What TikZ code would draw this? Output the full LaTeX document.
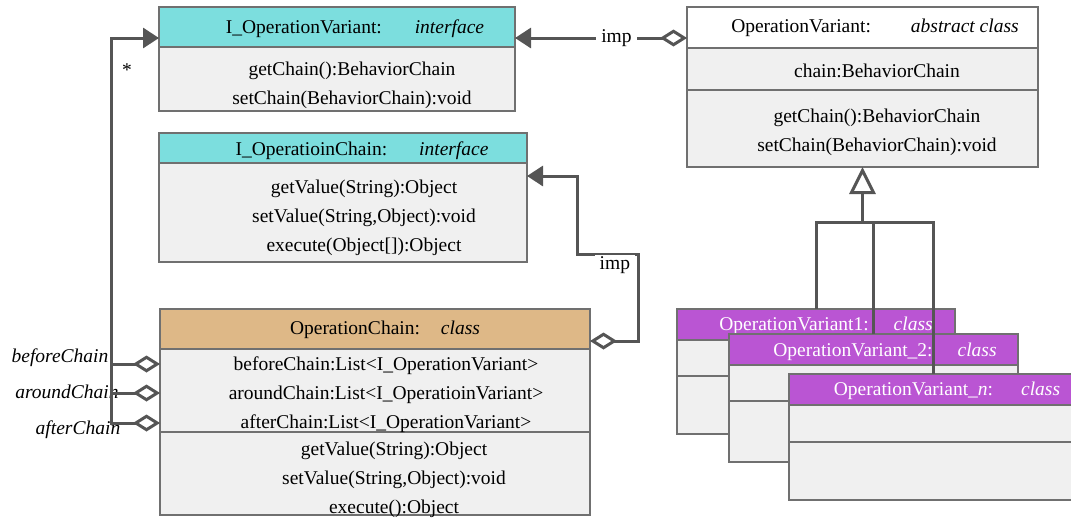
\documentclass[tikz,border=0pt]{standalone}
\usepackage{fontspec}
\setmainfont{Liberation Serif}
\usetikzlibrary{arrows.meta,calc}
\definecolor{boxline}{RGB}{112,112,112}
\definecolor{bodygray}{RGB}{240,240,240}
\definecolor{cyanhead}{RGB}{124,222,222}
\definecolor{tanhead}{RGB}{222,184,135}
\definecolor{purplehead}{RGB}{186,85,211}
\definecolor{linegray}{RGB}{85,85,85}
\newcommand{\umlfont}{\fontsize{19.5}{28.8}\selectfont}
\tikzset{
  comp/.style={draw=boxline,line width=1.5pt,fill=bodygray,anchor=north west,inner sep=0pt,outer sep=0pt},
  txt/.style={font=\umlfont,align=center,inner sep=0pt},
  role/.style={font=\umlfont\itshape,inner sep=0pt},
  imp/.style={font=\umlfont,fill=white,inner xsep=5pt,inner ysep=2pt},
  conn/.style={draw=linegray,line width=3pt},
  dia/.tip={Diamond[fill=white,length=27pt,width=17pt]},
  tri/.tip={Triangle[length=16pt,width=20pt]},
  gen/.tip={Triangle[fill=white,length=27pt,width=26pt]}
}

\begin{document}
\begin{tikzpicture}[x=1pt,y=-1pt]
    \useasboundingbox (0,0) rectangle (1071,517);
    \node[comp,fill=cyanhead,minimum width=356pt,minimum height=40pt] (ivH) at (159,7) {};
    \node[comp,minimum width=356pt,minimum height=64pt] (ivB) at (159,47) {};
    \node[txt] (ivHT) at (355,29) {I\_OperationVariant:\hspace{33pt}\textit{interface}};
    \node[txt] (ivBT) at (352,85) {getChain():BehaviorChain\\setChain(BehaviorChain):void};
    \node[comp,fill=cyanhead,minimum width=368pt,minimum height=30pt] (icH) at (159,133) {};
    \node[comp,minimum width=368pt,minimum height=99pt] (icB) at (159,163) {};
    \node[txt] (icHT) at (362,151) {I\_OperatioinChain:\hspace{32pt}\textit{interface}};
    \node[txt] (icBT) at (364,218) {getValue(String):Object\\setValue(String,Object):void\\execute(Object[]):Object};
    \node[comp,fill=white,minimum width=351pt,minimum height=41pt] (ovH) at (687,7) {};
    \node[comp,minimum width=351pt,minimum height=42pt] (ovA) at (687,48) {};
    \node[comp,minimum width=351pt,minimum height=77pt] (ovM) at (687,90) {};
    \node[txt] (ovHT) at (875,28) {OperationVariant:\hspace{40pt}\textit{abstract class}};
    \node[txt] (ovAT) at (877,71) {chain:BehaviorChain};
    \node[txt] (ovMT) at (877,132) {getChain():BehaviorChain\\setChain(BehaviorChain):void};
    \node[comp,fill=tanhead,minimum width=430pt,minimum height=40pt] (ocH) at (160,309) {};
    \node[comp,minimum width=430pt,minimum height=83pt] (ocA) at (160,349) {};
    \node[comp,minimum width=430pt,minimum height=83pt] (ocM) at (160,432) {};
    \node[txt] (ocHT) at (385,330) {OperationChain:\hspace{21pt}\textit{class}};
    \node[txt] (ocAT) at (386,395) {beforeChain:List<I\_OperationVariant>\\aroundChain:List<I\_OperatioinVariant>\\afterChain:List<I\_OperationVariant>};
    \node[txt] (ocMT) at (394,480) {getValue(String):Object\\setValue(String,Object):void\\execute():Object};
    \node[comp,fill=purplehead,minimum width=278pt,minimum height=31pt] (v1H) at (677,309) {};
    \node[comp,minimum width=278pt,minimum height=36pt] (v1A) at (677,340) {};
    \node[comp,minimum width=278pt,minimum height=58pt] (v1M) at (677,376) {};
    \node[txt,text=white] (v1HT) at (826,326) {OperationVariant1:\hspace{25pt}\textit{class}};
    \node[comp,fill=purplehead,minimum width=289pt,minimum height=31pt] (v2H) at (729,334) {};
    \node[comp,minimum width=289pt,minimum height=36pt] (v2A) at (729,365) {};
    \node[comp,minimum width=289pt,minimum height=61pt] (v2M) at (729,401) {};
    \node[txt,text=white] (v2HT) at (885,352) {OperationVariant\_2:\hspace{25pt}\textit{class}};
    \node[comp,fill=purplehead,minimum width=288pt,minimum height=31pt] (vnH) at (789,374) {};
    \node[comp,minimum width=288pt,minimum height=37pt] (vnA) at (789,405) {};
    \node[comp,minimum width=288pt,minimum height=58pt] (vnM) at (789,442) {};
    \node[txt,text=white] (vnHT) at (947,391) {OperationVariant\_\textit{n}:\hspace{28pt}\textit{class}};
    \node[role] (lblBefore) at (60,358) {beforeChain};
    \node[role] (lblAround) at (67,392) {aroundChain};
    \node[role] (lblAfter) at (78,430) {afterChain};
    \node[txt] (star) at (127,70) {*};
    \draw[conn,dia-tri] ($(ovH.south west)+(0,-10)$) -- node[imp,pos=0.41] (impV) {imp} ($(ivH.south east)+(0,-9)$);
    \draw[conn,dia-tri] ($(ocH.south east)+(0,-8)$) -| ++(48,-87) -- node[imp,pos=0.38,anchor=north,yshift=1pt] (impC) {imp} ++(-61,0) |- ($(icB.north east)+(0,13)$);
    \draw[conn,dia-tri] ($(ocA.north west)+(0,15)$) -- ++(-49,0) |- ($(ivH.south west)+(0,-9)$);
    \draw[conn,dia-] ($(ocA.north west)+(0,44)$) -- ++(-49,0);
    \draw[conn,dia-] ($(ocA.north west)+(0,74)$) -- ++(-49,0) -- ++(0,-59);
    \draw[conn,gen-] (ovM.south) -- ++(0,55) coordinate (hub);
    \draw[conn] (v1H.north) |- (hub) -| (vnH.north);
    \draw[conn] (v2H.north) -- (v2H.north |- hub);
\end{tikzpicture}
\end{document}
